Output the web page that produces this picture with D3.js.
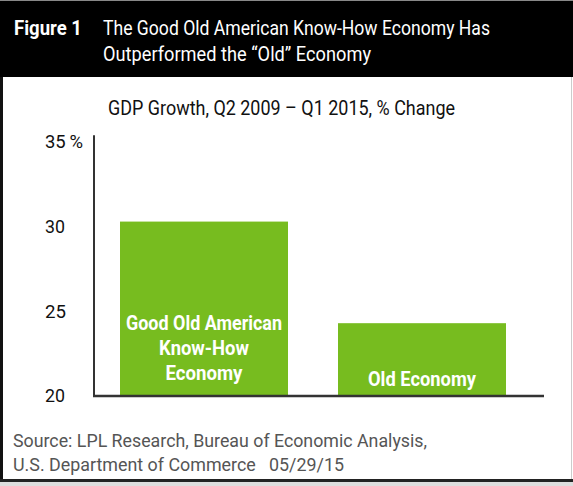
<!DOCTYPE html>
<html><head><meta charset="utf-8">
<script src="https://cdn.jsdelivr.net/npm/d3@7"></script>
<style>
html,body{margin:0;padding:0;background:#fff;}
svg{display:block;}
text{font-family:Roboto,"Liberation Sans",sans-serif;}
</style></head>
<body>
<script>
const categories = ["Good Old American Know-How Economy", "Old Economy"];
const labelLines = [["Good Old American", "Know-How", "Economy"], ["Old Economy"]];
const values = [30.3, 24.3];
const tickValues = [20, 25, 30, 35];
const tickLabels = ["20", "25", "30", "35\u2009%"];
const figLabel = "Figure 1";
const titleLines = ["The Good Old American Know-How Economy Has", "Outperformed the \u201cOld\u201d Economy"];
const subtitle = "GDP Growth, Q2 2009 \u2013 Q1 2015, % Change";
const sourceLines = ["Source: LPL Research, Bureau of Economic Analysis,", "U.S. Department of Commerce\u00a0\u00a0\u00a005/29/15"];

// layout-only widths for the condensed look
const titleW = [387, 268];
const labelW = [[156, 90, 77], [108]];
const tickW = [20, 21, 20, 38];
const sourceW = [414, 331];

const W = 573, H = 486;
const svg = d3.select("body").append("svg").attr("width", W).attr("height", H);

// frame
svg.append("rect").attr("x",0).attr("y",0).attr("width",W).attr("height",H).attr("fill","#fff");
svg.append("rect").attr("x",0).attr("y",0).attr("width",W).attr("height",1).attr("fill","#888");
svg.append("rect").attr("x",0).attr("y",1).attr("width",W).attr("height",76).attr("fill","#000");
svg.append("rect").attr("x",0).attr("y",77).attr("width",3).attr("height",405).attr("fill","#111");
svg.append("rect").attr("x",571).attr("y",77).attr("width",1).attr("height",402).attr("fill","#ccc");
svg.append("rect").attr("x",0).attr("y",479).attr("width",W).attr("height",3).attr("fill","#222");
svg.append("rect").attr("x",0).attr("y",482).attr("width",W).attr("height",4).attr("fill","#ddd");

// header
svg.append("text").attr("x",14).attr("y",35).attr("fill","#fff").attr("font-weight","bold")
  .attr("font-size",20).attr("textLength",68).attr("lengthAdjust","spacingAndGlyphs").text(figLabel);
svg.append("g").selectAll("text").data(titleLines).join("text")
  .attr("x",103).attr("y",(d,i)=>35+i*26).attr("fill","#fff").attr("font-size",20)
  .attr("textLength",(d,i)=>titleW[i]).attr("lengthAdjust","spacingAndGlyphs").text(d=>d);

// subtitle
svg.append("text").attr("x",108).attr("y",115).attr("fill","#111").attr("font-size",20)
  .attr("textLength",347).attr("lengthAdjust","spacingAndGlyphs").text(subtitle);

// scales
const y = d3.scaleLinear().domain([20,35]).range([396,142]);
const x = d3.scaleBand().domain(categories).range([120,506]).paddingInner(50/218).paddingOuter(0);

// bars
svg.append("g").selectAll("rect").data(values).join("rect")
  .attr("x",(d,i)=>x(categories[i])).attr("width",x.bandwidth())
  .attr("y",d=>y(d)).attr("height",d=>y(20)-y(d)).attr("fill","#77bc1f");

// axis
const yAxis = d3.axisLeft(y).tickValues(tickValues).tickSize(0).tickFormat((d,i)=>tickLabels[i]);
const ag = svg.append("g").attr("transform","translate(94,0)").call(yAxis);
ag.select(".domain").remove();
ag.selectAll("text").attr("x",-49).attr("text-anchor","start").attr("font-size",18)
  .attr("fill","#111").attr("font-family",null)
  .attr("textLength",(d,i)=>tickW[i]).attr("lengthAdjust","spacingAndGlyphs");
svg.append("line").attr("x1",94).attr("x2",94).attr("y1",y(35.4)).attr("y2",y(20)+1)
  .attr("stroke","#333").attr("stroke-width",2);
svg.append("line").attr("x1",93).attr("x2",544).attr("y1",y(20)).attr("y2",y(20))
  .attr("stroke","#333").attr("stroke-width",2.5);

// bar labels
const lblBase = [[330,355,380],[386]];
categories.forEach((c,i)=>{
  svg.append("g").selectAll("text").data(labelLines[i]).join("text")
    .attr("x",x(c)+x.bandwidth()/2).attr("y",(d,j)=>lblBase[i][j])
    .attr("text-anchor","middle").attr("fill","#fff").attr("font-weight","bold")
    .attr("font-size",20).attr("textLength",(d,j)=>labelW[i][j])
    .attr("lengthAdjust","spacingAndGlyphs").text(d=>d);
});

// source
svg.append("g").selectAll("text").data(sourceLines).join("text")
  .attr("x",13).attr("y",(d,i)=>447+i*24).attr("fill","#555").attr("font-size",19)
  .attr("textLength",(d,i)=>sourceW[i]).attr("lengthAdjust","spacingAndGlyphs").text(d=>d);
</script>
</body></html>
